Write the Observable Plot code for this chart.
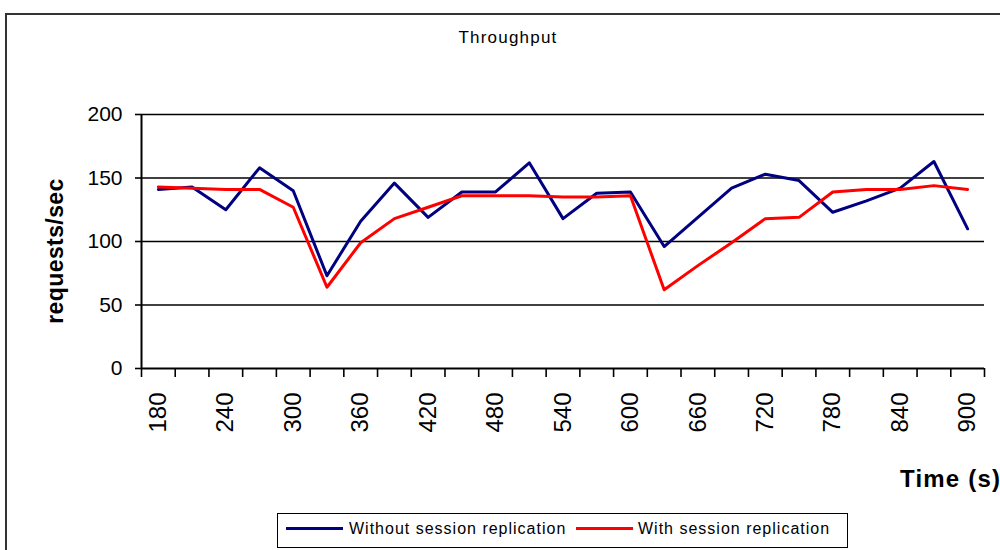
<!DOCTYPE html>
<html>
<head>
<meta charset="utf-8">
<script src="https://cdn.jsdelivr.net/npm/d3@7"></script>
<script src="https://cdn.jsdelivr.net/npm/@observablehq/plot@0.6"></script>
<style>
  body { margin: 0; background: #fff; font-family: "Liberation Sans", Arial, sans-serif; }
  #wrap { position: relative; width: 1000px; height: 550px; overflow: hidden; background: #fff; }
  #chart { position: absolute; left: 0; top: 0; }
  #frame { position: absolute; left: 5px; top: 13px; width: 1100px; height: 700px;
           border-left: 2px solid #333; border-top: 2px solid #333; box-sizing: border-box; }
  .lbl { position: absolute; white-space: nowrap; line-height: 1; color: #000; }
  #title { left: 508px; top: 29px; font-size: 17px; transform: translateX(-50%); letter-spacing: 1.2px; }
  #ylabel { left: 55px; top: 251px; font-size: 23px; font-weight: bold; letter-spacing: 0.4px; transform: translate(-50%, -50%) rotate(-90deg); }
  #xlabel { left: 900px; top: 467px; font-size: 24px; font-weight: bold; letter-spacing: 1.2px; }
  #legend { position: absolute; left: 277px; top: 513px; width: 571px; height: 35px;
            border: 1.5px solid #000; box-sizing: border-box; background: #fff; }
  .swatch { position: absolute; top: 13px; height: 3px; }
  .ltext { position: absolute; top: 7px; font-size: 16px; line-height: 1; white-space: nowrap; letter-spacing: 1px; }
</style>
</head>
<body>
<div id="wrap">
  <div id="frame"></div>
  <div id="chart"></div>
  <div id="title" class="lbl">Throughput</div>
  <div id="ylabel" class="lbl">requests/sec</div>
  <div id="xlabel" class="lbl">Time (s)</div>
  <div id="legend"></div>
</div>
<script>
// Time (s) categories
const categories = [180, 210, 240, 270, 300, 330, 360, 390, 420, 450, 480, 510, 540,
                    570, 600, 630, 660, 690, 720, 750, 780, 810, 840, 870, 900];
// requests/sec
const withoutReplication = [141, 143, 125, 158, 140, 73, 116, 146, 119, 139, 139, 162, 118,
                            138, 139, 96, 119, 142, 153, 148, 123, 132, 142, 163, 110];
const withReplication    = [143, 142, 141, 141, 127, 64, 99, 118, 127, 136, 136, 136, 135,
                            135, 136, 62, 81, 99, 118, 119, 139, 141, 141, 144, 141];
const yTicks = [0, 50, 100, 150, 200];
const xTickLabels = [180, 240, 300, 360, 420, 480, 540, 600, 660, 720, 780, 840, 900];
const seriesNames = ["Without session replication", "With session replication"];
const seriesColors = ["#000080", "#ff0000"];

const data = categories.flatMap((c, i) => [
  { t: c, v: withoutReplication[i], s: seriesNames[0] },
  { t: c, v: withReplication[i], s: seriesNames[1] }
]);
// Category boundaries (tick marks sit between categories)
const half = (categories[1] - categories[0]) / 2;
const bounds = categories.map(c => c - half).concat([categories[categories.length - 1] + half]);

const chart = Plot.plot({
  width: 1000,
  height: 550,
  marginLeft: 141,
  marginRight: 16,
  marginTop: 114,
  marginBottom: 182,
  style: { fontFamily: '"Liberation Sans", Arial, sans-serif', color: "#000", background: "transparent", overflow: "visible" },
  x: { type: "linear", domain: [bounds[0], bounds[bounds.length - 1]], axis: null },
  y: { domain: [0, 200], axis: null },
  color: { domain: seriesNames, range: seriesColors },
  marks: [
    Plot.ruleY(yTicks.filter(d => d > 0), { stroke: "#000", strokeWidth: 1.6 }),
    Plot.axisY({ ticks: yTicks, tickSize: 6, tickPadding: 13, fontSize: 21, strokeWidth: 1.6, label: null }),
    Plot.axisX({ ticks: bounds, tickSize: 9, tickFormat: () => "", strokeWidth: 1.6, label: null }),
    Plot.axisX({ ticks: xTickLabels, tickSize: 0, tickPadding: 24, tickRotate: -90, fontSize: 24, label: null }),
    Plot.ruleX([bounds[0]], { y1: 0, y2: 200, stroke: "#000", strokeWidth: 2 }),
    Plot.ruleY([0], { stroke: "#000", strokeWidth: 2 }),
    Plot.line(data, { x: "t", y: "v", z: "s", stroke: "s", strokeWidth: 3 })
  ]
});
document.getElementById("chart").appendChild(chart);

// Legend
const legend = document.getElementById("legend");
const swatchLeft = [8, 298];
const textLeft = [71, 360];
seriesNames.forEach((name, i) => {
  const sw = document.createElement("div");
  sw.className = "swatch";
  sw.style.left = swatchLeft[i] + "px";
  sw.style.width = "57px";
  sw.style.background = seriesColors[i];
  legend.appendChild(sw);
  const tx = document.createElement("div");
  tx.className = "ltext";
  tx.style.left = textLeft[i] + "px";
  tx.textContent = name;
  legend.appendChild(tx);
});
</script>
</body>
</html>
